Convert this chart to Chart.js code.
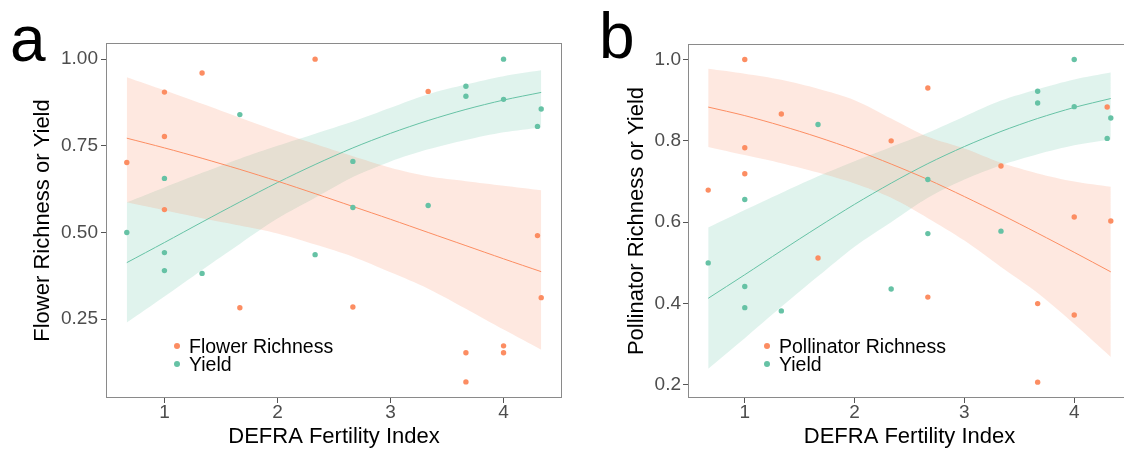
<!DOCTYPE html>
<html lang="en">
<head>
<meta charset="UTF-8">
<title>Richness or Yield vs DEFRA Fertility Index</title>
<script src="https://cdn.jsdelivr.net/npm/chart.js"></script>
<style>
  html, body { margin: 0; padding: 0; background: #fff; }
  #wrap { position: relative; width: 1124px; height: 449px; overflow: hidden; font-family: "Liberation Sans", Arial, sans-serif; }
  canvas { position: absolute; top: 0; }
  .tag { position: absolute; font-size: 64px; line-height: 1; color: #000; }
  .legend { position: absolute; font-size: 19.5px; line-height: 18px; color: #000; }
  .legend div { position: relative; padding-left: 22px; height: 18px; }
  .legend span { position: absolute; left: 7px; top: 6px; width: 6px; height: 6px; border-radius: 50%; }
</style>
</head>
<body>
<div id="wrap">
  <canvas id="chartA" width="575" height="449" style="left:0"></canvas>
  <canvas id="chartB" width="545" height="449" style="left:590px"></canvas>
  <div class="tag" style="left:10px; top:7px">a</div>
  <div class="tag" style="left:599px; top:4px">b</div>
  <div class="legend" style="left:167px; top:337px">
    <div><span style="background:#FC8D62"></span>Flower Richness</div>
    <div><span style="background:#66C2A5"></span>Yield</div>
  </div>
  <div class="legend" style="left:757px; top:337px">
    <div><span style="background:#FC8D62"></span>Pollinator Richness</div>
    <div><span style="background:#66C2A5"></span>Yield</div>
  </div>
</div>

<script>
// x grid for the fitted curves and ribbons
const fitX = [0.667, 1, 1.333, 1.667, 2, 2.333, 2.667, 3, 3.333, 3.667, 4, 4.333];

// yield (same in both panels)
const yieldX = [0.667, 1, 1, 1, 1.333, 1.667, 2.333, 2.667, 2.667, 3.333, 3.667, 3.667, 4, 4, 4.333, 4.3];
const yieldY = [0.5, 0.442, 0.39, 0.656, 0.382, 0.84, 0.436, 0.705, 0.572, 0.578, 0.922, 0.893, 1.0, 0.884, 0.856, 0.806];
const yieldFit = [0.413, 0.471, 0.530, 0.588, 0.644, 0.696, 0.744, 0.786, 0.823, 0.855, 0.882, 0.904];
const yieldUpper = [0.587, 0.63, 0.672, 0.713, 0.75, 0.785, 0.82, 0.86, 0.899, 0.927, 0.951, 0.968];
const yieldLower = [0.24, 0.315, 0.392, 0.467, 0.54, 0.60, 0.66, 0.705, 0.74, 0.767, 0.789, 0.803];

// panel a: flower richness
const flowerX = [0.667, 1, 1, 1, 1.333, 1.667, 2.333, 2.667, 3.333, 3.667, 3.667, 4, 4, 4.3, 4.333];
const flowerY = [0.702, 0.905, 0.777, 0.566, 0.960, 0.283, 1.0, 0.285, 0.907, 0.153, 0.069, 0.173, 0.153, 0.491, 0.312];
const flowerFit = [0.772, 0.744, 0.714, 0.682, 0.648, 0.612, 0.575, 0.538, 0.500, 0.462, 0.424, 0.387];
const flowerUpper = [0.948, 0.910, 0.871, 0.831, 0.792, 0.755, 0.72, 0.687, 0.662, 0.648, 0.635, 0.622];
const flowerLower = [0.587, 0.564, 0.541, 0.520, 0.497, 0.465, 0.430, 0.385, 0.338, 0.28, 0.22, 0.162];

// panel b: pollinator richness
const pollX = [0.667, 1, 1, 1, 1.333, 1.667, 2.333, 2.667, 2.667, 3.333, 3.667, 3.667, 4, 4, 4.3, 4.333];
const pollY = [0.679, 1.0, 0.783, 0.719, 0.866, 0.512, 0.80, 0.930, 0.416, 0.738, 0.40, 0.207, 0.613, 0.372, 0.883, 0.603];
const pollFit = [0.883, 0.862, 0.837, 0.809, 0.778, 0.743, 0.705, 0.663, 0.619, 0.573, 0.526, 0.478];
const pollUpper = [0.977, 0.965, 0.950, 0.928, 0.900, 0.855, 0.81, 0.781, 0.746, 0.72, 0.70, 0.687];
const pollLower = [0.785, 0.765, 0.745, 0.722, 0.695, 0.66, 0.61, 0.555, 0.49, 0.426, 0.35, 0.269];

// tick labels
const xTicks = [1, 2, 3, 4];
const yTicksA = [0.25, 0.5, 0.75, 1.0];
const yTicksB = [0.2, 0.4, 0.6, 0.8, 1.0];

const ORANGE = '#FC8D62';
const GREEN = '#66C2A5';

function pts(xs, ys) {
  return xs.map((x, i) => ({ x: x, y: ys[i] }));
}

const boxPlugin = {
  id: 'box',
  afterDraw(chart) {
    const a = chart.chartArea, c = chart.ctx;
    c.save();
    c.strokeStyle = '#8a8a8a';
    c.lineWidth = 1;
    c.strokeRect(Math.round(a.left) + 0.5, Math.round(a.top) + 0.5, Math.round(a.right - a.left) - 1, Math.round(a.bottom - a.top) - 1);
    c.restore();
  }
};

function makeChart(id, cfg) {
  const ribbon = (ys, col, fill) => ({
    type: 'line', data: pts(fitX, ys), borderWidth: 0, pointRadius: 0,
    backgroundColor: col, fill: fill, order: 3, tension: 0.3
  });
  const curve = (ys, col) => ({
    type: 'line', data: pts(fitX, ys), borderColor: col, borderWidth: 1,
    pointRadius: 0, fill: false, order: 2, tension: 0.3
  });
  const dots = (xs, ys, col) => ({
    type: 'scatter', data: pts(xs, ys), backgroundColor: col, borderWidth: 0,
    pointRadius: 2.7, order: 1
  });

  return new Chart(document.getElementById(id), {
    type: 'scatter',
    data: {
      datasets: [
        dots(cfg.rx, cfg.ry, ORANGE),
        dots(yieldX, yieldY, GREEN),
        curve(cfg.fit, ORANGE),
        curve(yieldFit, GREEN),
        ribbon(cfg.up, 'rgba(252,141,98,0.2)', '+1'),
        ribbon(cfg.lo, 'rgba(0,0,0,0)', false),
        ribbon(yieldUpper, 'rgba(102,194,165,0.2)', '+1'),
        ribbon(yieldLower, 'rgba(0,0,0,0)', false)
      ]
    },
    options: {
      responsive: false,
      animation: false,
      devicePixelRatio: 1,
      layout: { padding: { top: cfg.top, right: cfg.right, bottom: 0, left: 0 } },
      plugins: { legend: { display: false }, tooltip: { enabled: false } },
      scales: {
        x: {
          type: 'linear', min: 0.483, max: 4.517,
          afterBuildTicks: s => { s.ticks = xTicks.map(v => ({ value: v })); },
          afterFit: s => { s.height = 51; },
          grid: { drawOnChartArea: false, drawTicks: true, tickLength: 5, color: '#555' },
          border: { display: false },
          ticks: { color: '#4D4D4D', padding: 0, font: { family: 'Liberation Sans', size: 19, lineHeight: 1 } },
          title: { display: true, text: 'DEFRA Fertility Index', color: '#000',
                   font: { family: 'Liberation Sans', size: 22, lineHeight: 1 }, padding: { top: 0, bottom: 1 } }
        },
        y: {
          type: 'linear', min: cfg.ymin, max: cfg.ymax,
          afterBuildTicks: s => { s.ticks = cfg.yt.map(v => ({ value: v })); },
          afterFit: s => { s.width = cfg.yw; },
          grid: { drawOnChartArea: false, drawTicks: true, tickLength: 5, color: '#555' },
          border: { display: false },
          ticks: { color: '#4D4D4D', padding: cfg.tp, font: { family: 'Liberation Sans', size: 19 },
                   callback: v => v.toFixed(cfg.dec) },
          title: { display: true, text: cfg.ytitle, color: '#000',
                   font: { family: 'Liberation Sans', size: 22, lineHeight: 1 }, padding: { top: cfg.titlePad, bottom: 0 } }
        }
      }
    },
    plugins: [boxPlugin]
  });
}

makeChart('chartA', {
  rx: flowerX, ry: flowerY, fit: flowerFit, up: flowerUpper, lo: flowerLower,
  ymin: 0.0225, ymax: 1.0466, yt: yTicksA, dec: 2, yw: 106, tp: 3,
  top: 43, right: 13, titlePad: 32, ytitle: 'Flower Richness or Yield'
});

makeChart('chartB', {
  rx: pollX, ry: pollY, fit: pollFit, up: pollUpper, lo: pollLower,
  ymin: 0.168, ymax: 1.038, yt: yTicksB, dec: 1, yw: 98, tp: 2,
  top: 44, right: 4, titlePad: 36, ytitle: 'Pollinator Richness or Yield'
});
</script>
</body>
</html>
